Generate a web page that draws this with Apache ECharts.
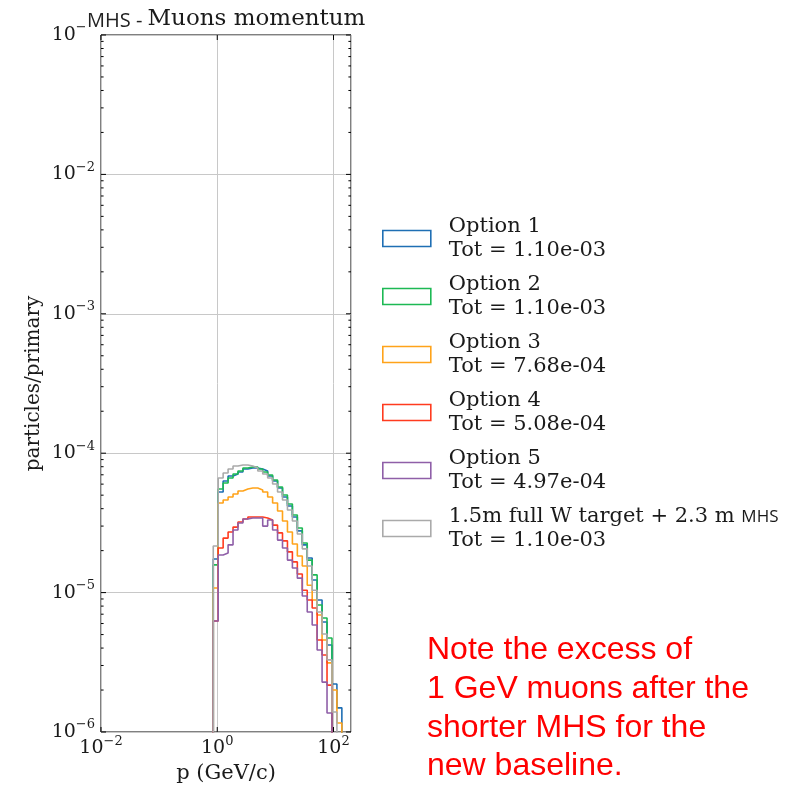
<!DOCTYPE html>
<html><head><meta charset="utf-8">
<script src="https://cdn.jsdelivr.net/npm/echarts@6/dist/echarts.min.js"></script>
<style>html,body{margin:0;padding:0;background:#fff}#c{width:808px;height:791px}</style>
</head><body><div id="c"></div>
<script>
// ---- data ----
const seriesNames = ['Option 1', 'Option 2', 'Option 3', 'Option 4', 'Option 5', '1.5m full W target + 2.3 m MHS'];
const totals = ['1.10e-03', '1.10e-03', '7.68e-04', '5.08e-04', '4.97e-04', '1.10e-03'];
const colors = ['#1f6fb4', '#1db954', '#ffa31a', '#ff3b1f', '#8f5fa8', '#aaaaaa'];
// log10 of first bin edge and log-width of each bin (GeV/c)
const binStartLog = -0.0688;
const binWidthLog = 0.0851;
const option1 = [1.74e-5, 5.27e-5, 6.32e-5, 6.86e-5, 7.09e-5, 7.33e-5, 7.70e-5, 7.83e-5, 7.83e-5, 7.70e-5, 7.45e-5, 6.86e-5, 6.32e-5, 5.63e-5, 4.85e-5, 4.18e-5, 3.49e-5, 2.77e-5, 2.20e-5, 1.77e-5, 1.23e-5, 8.85e-6, 6.15e-6, 4.21e-6, 2.21e-6, 1.49e-6];
const option2 = [1.58e-5, 5.54e-5, 6.11e-5, 6.64e-5, 7.09e-5, 7.45e-5, 7.83e-5, 7.96e-5, 7.96e-5, 7.70e-5, 7.33e-5, 6.98e-5, 6.42e-5, 5.72e-5, 5.01e-5, 4.32e-5, 3.60e-5, 2.91e-5, 2.27e-5, 1.71e-5, 1.34e-5, 8.15e-6, 6.57e-6, 4.72e-6, 0, 0];
const option3 = [1.08e-5, 4.39e-5, 4.62e-5, 4.85e-5, 5.10e-5, 5.36e-5, 5.54e-5, 5.63e-5, 5.63e-5, 5.45e-5, 5.27e-5, 4.85e-5, 4.39e-5, 3.85e-5, 3.26e-5, 2.72e-5, 2.23e-5, 1.83e-5, 1.55e-5, 1.13e-5, 8.85e-6, 6.91e-6, 4.57e-6, 3.13e-6, 2.00e-6, 1.16e-6];
const option4 = [6.26e-6, 2.09e-5, 2.46e-5, 2.72e-5, 2.95e-5, 3.21e-5, 3.37e-5, 3.49e-5, 3.49e-5, 3.49e-5, 3.43e-5, 3.32e-5, 3.05e-5, 2.68e-5, 2.35e-5, 1.96e-5, 1.66e-5, 1.36e-5, 1.04e-5, 8.85e-6, 7.76e-6, 4.57e-6, 3.57e-6, 2.17e-6, 0, 0];
const option5 = [6.26e-6, 1.86e-5, 1.92e-5, 2.20e-5, 2.81e-5, 3.16e-5, 3.37e-5, 3.43e-5, 3.43e-5, 3.43e-5, 3.00e-5, 3.32e-5, 2.81e-5, 2.38e-5, 2.09e-5, 1.71e-5, 1.50e-5, 1.27e-5, 9.45e-6, 7.26e-6, 5.85e-6, 3.87e-6, 2.28e-6, 1.37e-6, 0, 0];
const baseline = [2.16e-5, 6.64e-5, 7.21e-5, 7.70e-5, 8.09e-5, 8.23e-5, 8.23e-5, 8.09e-5, 7.83e-5, 7.45e-5, 7.09e-5, 6.64e-5, 6.01e-5, 5.27e-5, 4.62e-5, 3.91e-5, 3.26e-5, 2.63e-5, 2.06e-5, 1.55e-5, 1.04e-5, 7.26e-6, 5.05e-6, 3.29e-6, 1.39e-6, 0];
const allValues = [option1, option2, option3, option4, option5, baseline];
// axes
const xMin = 0.01, xMax = 200, yMin = 1e-6, yMax = 0.1;
const xMajorExp = [-2, 0, 2];
const yMajorExp = [-6, -5, -4, -3, -2, -1];
const minorMult = [2, 3, 4, 5, 6, 7, 8, 9];
const titleText = 'Muons momentum';
const titlePrefix = 'MHS - ';
const noteLines = ['Note the excess of', '1 GeV muons after the', 'shorter MHS for the', 'new baseline.'];

// ---- build ----
const FLOOR = 1e-9;
function edge(k) { return Math.pow(10, binStartLog + k * binWidthLog); }
function stepData(vals) {
  const pts = [[edge(0), FLOOR]];
  vals.forEach((v, k) => {
    const y = v > 0 ? v : FLOOR;
    pts.push([edge(k), y]);
    pts.push([edge(k + 1), y]);
  });
  pts.push([edge(vals.length), FLOOR]);
  return pts;
}
const serif = 'DejaVu Serif';
const txt = '#1a1a1a';
function expLabel(v) {
  const e = Math.round(Math.log10(v));
  return '{b|10}{s|' + (e < 0 ? '\u2212' + (-e) : '' + e) + '}';
}
const tickRich = {
  b: { fontFamily: serif, fontSize: 19, color: txt },
  s: { fontFamily: serif, fontSize: 13, color: txt, padding: [0, 0, 14, 0] }
};

const series = allValues.map((vals, i) => ({
  name: seriesNames[i],
  type: 'line',
  data: stepData(vals),
  showSymbol: false,
  symbol: 'none',
  clip: true,
  lineStyle: { color: colors[i], width: 1.6 },
  itemStyle: { color: colors[i] },
  z: 3 + i,
  silent: true,
  animation: false
}));

series.push({
  type: 'custom',
  coordinateSystem: 'cartesian2d',
  silent: true,
  z: 20,
  data: [[1, 1e-4]],
  renderItem: function (params, api) {
    const children = [];
    const bl = api.coord([xMin, yMin]);
    const tr = api.coord([xMax, yMax]);
    const xl = bl[0], yb = bl[1], xr = tr[0], yt = tr[1];
    const st = { stroke: '#000', lineWidth: 1 };
    function hline(y, len) {
      children.push({ type: 'line', shape: { x1: xl, y1: y, x2: xl + len, y2: y }, style: st });
      children.push({ type: 'line', shape: { x1: xr, y1: y, x2: xr - len, y2: y }, style: st });
    }
    yMajorExp.forEach(e => { hline(api.coord([1, Math.pow(10, e)])[1], 5); });
    yMajorExp.slice(0, -1).forEach(e => {
      minorMult.forEach(m => { hline(api.coord([1, m * Math.pow(10, e)])[1], 2.6); });
    });
    xMajorExp.forEach(e => {
      const x = api.coord([Math.pow(10, e), 1e-4])[0];
      children.push({ type: 'line', shape: { x1: x, y1: yb, x2: x, y2: yb - 5 }, style: st });
      children.push({ type: 'line', shape: { x1: x, y1: yt, x2: x, y2: yt + 5 }, style: st });
    });
    return { type: 'group', children: children };
  }
});

const chart = echarts.init(document.getElementById('c'), null, { renderer: 'canvas' });
chart.setOption({
  animation: false,
  backgroundColor: '#fff',
  title: [
    {
      left: 80, top: 2,
      text: '{a|' + titlePrefix + '}{b|' + titleText + '}',
      textStyle: {
        fontWeight: 'normal',
        rich: {
          a: { fontFamily: 'Open Sans', fontSize: 20, fontWeight: 'normal', color: '#222', backgroundColor: '#fff', padding: [4, 0, 0, 2] },
          b: { fontFamily: serif, fontSize: 23, fontWeight: 'normal', color: txt }
        }
      }
    },
    {
      left: 422, top: 626,
      text: noteLines.join('\n'),
      textStyle: { fontFamily: 'Liberation Sans', fontSize: 32, fontWeight: 'normal', color: '#ff0000', lineHeight: 38.7 }
    }
  ],
  legend: {
    orient: 'vertical',
    left: 377, top: 211,
    itemWidth: 48, itemHeight: 16,
    itemGap: 13,
    icon: 'rect',
    selectedMode: false,
    data: seriesNames.map((n, i) => ({
      name: n,
      itemStyle: { color: '#fff', borderColor: colors[i], borderWidth: 1.6 }
    })),
    formatter: function (name) {
      const i = seriesNames.indexOf(name);
      let first = '{t|' + name + '}';
      if (name.endsWith('MHS')) {
        first = '{t|' + name.slice(0, -3) + '}{m|MHS}';
      }
      return first + '\n{t|Tot = ' + totals[i] + '}';
    },
    textStyle: {
      padding: [0, 0, 0, 13],
      rich: {
        t: { fontFamily: serif, fontSize: 21, color: txt, lineHeight: 24 },
        m: { fontFamily: 'Open Sans', fontSize: 17, color: txt, lineHeight: 24, padding: [2, 0, 0, 0] }
      }
    }
  },
  grid: {
    left: 101, top: 35, right: 457, bottom: 59,
    show: true, borderColor: '#000', borderWidth: 1, backgroundColor: 'transparent'
  },
  xAxis: {
    type: 'log', logBase: 10, min: xMin, max: xMax, interval: 2,
    axisLine: { show: false }, axisTick: { show: false },
    splitLine: { show: true, lineStyle: { color: '#c8c8c8', width: 1 } },
    axisLabel: { formatter: expLabel, rich: tickRich, margin: 3, showMaxLabel: false },
    name: 'p (GeV/c)', nameLocation: 'middle', nameGap: 31,
    nameTextStyle: { fontFamily: serif, fontSize: 21, color: txt }
  },
  yAxis: {
    type: 'log', logBase: 10, min: yMin, max: yMax, interval: 1,
    axisLine: { show: false }, axisTick: { show: false },
    splitLine: { show: true, lineStyle: { color: '#c8c8c8', width: 1 } },
    axisLabel: { formatter: expLabel, rich: tickRich, margin: 6 },
    name: 'particles/primary', nameLocation: 'middle', nameGap: 57, nameRotate: 90,
    nameTextStyle: { fontFamily: serif, fontSize: 20, color: txt }
  },
  series: series
});
</script></body></html>
